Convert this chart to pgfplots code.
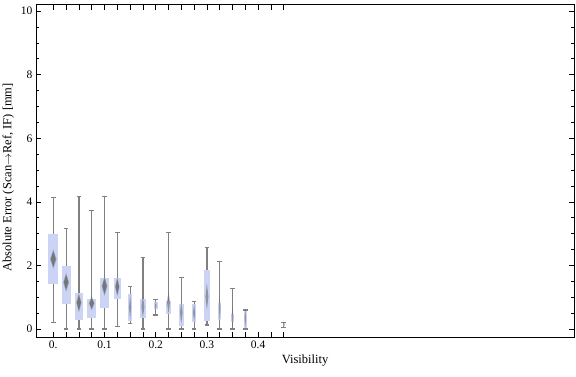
\documentclass[border=0pt]{standalone}
\usepackage{fontspec}
\setmainfont{Liberation Serif}
\usepackage{pgfplots}
\pgfplotsset{compat=1.18}
\usepgfplotslibrary{statistics}
\definecolor{boxblue}{RGB}{204,212,245}
\definecolor{wgray}{RGB}{128,128,128}
\definecolor{dgray}{RGB}{105,105,105}
\begin{document}
\begin{tikzpicture}
\begin{axis}[
  scale only axis, width=538pt, height=332.3pt,
  xmin=-0.0338, xmax=1.017, ymin=-0.25, ymax=10.2,
  xtick={0,0.025,0.05,0.075,0.1,0.125,0.15,0.175,0.2,0.225,0.25,0.275,0.3,0.325,0.35,0.375,0.4,0.425,0.45},
  xticklabels={0.,,,,0.1,,,,0.2,,,,0.3,,,,0.4,,},
  ytick={0,2,4,6,8,10}, yticklabels={0,2,4,6,8,10},
  minor y tick num=3,
  major tick length=5pt, minor tick length=3pt,
  tick style={black, line width=0.6pt},
  axis line style={line width=0.8pt},
  tick label style={font=\fontsize{11.5}{13}\selectfont},
  label style={font=\fontsize{12.5}{14}\selectfont},
  ylabel style={at={(ticklabel cs:0.48)}},
  xlabel={Visibility},
  ylabel={Absolute Error (Scan$\rightarrow$Ref, IF) [mm]},
  boxplot/draw direction=y,
  boxplot/every box/.style={fill=boxblue, draw=none},
  boxplot/every whisker/.style={wgray, line width=1.2pt},
  boxplot/every median/.style={draw=none},
  boxplot/whisker extend=0.009,
]
\coordinate (ll) at (rel axis cs:0,0);
\coordinate (ur) at (rel axis cs:1,1);
% boxes: draw position, lower whisker, lower quartile, upper quartile, upper whisker
\addplot[wgray, line width=1.2pt, boxplot prepared={draw position=0,     lower whisker=0.21, lower quartile=1.42, median=2.2,  upper quartile=2.99, upper whisker=4.14, box extend=0.0195}] coordinates {};
\addplot[wgray, line width=1.2pt, boxplot prepared={draw position=0.025, lower whisker=0.0,  lower quartile=0.80, median=1.47, upper quartile=1.98, upper whisker=3.17, box extend=0.0176}] coordinates {};
\addplot[wgray, line width=1.2pt, boxplot prepared={draw position=0.05,  lower whisker=0.0,  lower quartile=0.29, median=0.83, upper quartile=1.12, upper whisker=4.18, box extend=0.0162}] coordinates {};
\addplot[wgray, line width=1.2pt, boxplot prepared={draw position=0.075, lower whisker=0.0,  lower quartile=0.36, median=0.81, upper quartile=0.94, upper whisker=3.73, box extend=0.0176}] coordinates {};
\addplot[wgray, line width=1.2pt, boxplot prepared={draw position=0.1,   lower whisker=0.0,  lower quartile=0.67, median=1.35, upper quartile=1.60, upper whisker=4.18, box extend=0.0176}] coordinates {};
\addplot[wgray, line width=1.2pt, boxplot prepared={draw position=0.125, lower whisker=0.09, lower quartile=0.95, median=1.33, upper quartile=1.60, upper whisker=3.04, box extend=0.0137}] coordinates {};
\addplot[wgray, line width=1.2pt, boxplot prepared={draw position=0.15,  lower whisker=0.18, lower quartile=0.25, median=0.69, upper quartile=1.10, upper whisker=1.33, box extend=0.0078}] coordinates {};
\addplot[wgray, line width=1.2pt, boxplot prepared={draw position=0.175, lower whisker=0.0,  lower quartile=0.36, median=0.70, upper quartile=0.94, upper whisker=2.25, box extend=0.0117}] coordinates {};
\addplot[wgray, line width=1.2pt, boxplot prepared={draw position=0.2,   lower whisker=0.44, lower quartile=0.63, median=0.73, upper quartile=0.84, upper whisker=0.93, box extend=0.0072}] coordinates {};
\addplot[wgray, line width=1.2pt, boxplot prepared={draw position=0.225, lower whisker=0.0,  lower quartile=0.47, median=0.84, upper quartile=0.89, upper whisker=3.04, box extend=0.0117}] coordinates {};
\addplot[wgray, line width=1.2pt, boxplot prepared={draw position=0.25,  lower whisker=0.0,  lower quartile=0.10, median=0.52, upper quartile=0.79, upper whisker=1.63, box extend=0.0098}] coordinates {};
\addplot[wgray, line width=1.2pt, boxplot prepared={draw position=0.275, lower whisker=0.0,  lower quartile=0.23, median=0.51, upper quartile=0.78, upper whisker=0.86, box extend=0.0078}] coordinates {};
\addplot[wgray, line width=1.2pt, boxplot prepared={draw position=0.3,   lower whisker=0.13, lower quartile=0.26, median=1.02, upper quartile=1.86, upper whisker=2.57, box extend=0.0117}] coordinates {};
\addplot[wgray, line width=1.2pt, boxplot prepared={draw position=0.325, lower whisker=0.0,  lower quartile=0.28, median=0.65, upper quartile=0.83, upper whisker=2.12, box extend=0.0065}] coordinates {};
\addplot[wgray, line width=1.2pt, boxplot prepared={draw position=0.35,  lower whisker=0.0,  lower quartile=0.23, median=0.39, upper quartile=0.47, upper whisker=1.28, box extend=0.0052}] coordinates {};
\addplot[wgray, line width=1.2pt, boxplot prepared={draw position=0.375, lower whisker=0.0,  lower quartile=0.02, median=0.34, upper quartile=0.58, upper whisker=0.60, box extend=0.0052}] coordinates {};
\addplot[wgray, line width=1.2pt, boxplot prepared={draw position=0.45,  lower whisker=0.05, lower quartile=0.09, median=0.15, upper quartile=0.18, upper whisker=0.20, box extend=0.0045}] coordinates {};
% mean diamonds (soft outer + darker inner)
\addplot[fill=dgray, draw=none, fill opacity=0.35] coordinates {(-0.0065,2.2) (0,2.52) (0.0065,2.2) (0,1.88)} --cycle;
\addplot[fill=dgray, draw=none, fill opacity=0.8] coordinates {(-0.0049,2.2) (0,2.45) (0.0049,2.2) (0,1.95)} --cycle;
\addplot[fill=dgray, draw=none, fill opacity=0.35] coordinates {(0.0192,1.47) (0.025,1.78) (0.0308,1.47) (0.025,1.16)} --cycle;
\addplot[fill=dgray, draw=none, fill opacity=0.8] coordinates {(0.0206,1.47) (0.025,1.71) (0.0294,1.47) (0.025,1.23)} --cycle;
\addplot[fill=dgray, draw=none, fill opacity=0.35] coordinates {(0.0447,0.83) (0.05,1.15) (0.0553,0.83) (0.05,0.51)} --cycle;
\addplot[fill=dgray, draw=none, fill opacity=0.8] coordinates {(0.046,0.83) (0.05,1.08) (0.054,0.83) (0.05,0.58)} --cycle;
\addplot[fill=dgray, draw=none, fill opacity=0.35] coordinates {(0.0692,0.81) (0.075,1.04) (0.0808,0.81) (0.075,0.58)} --cycle;
\addplot[fill=dgray, draw=none, fill opacity=0.8] coordinates {(0.0706,0.81) (0.075,0.99) (0.0794,0.81) (0.075,0.63)} --cycle;
\addplot[fill=dgray, draw=none, fill opacity=0.35] coordinates {(0.0942,1.35) (0.1,1.67) (0.1058,1.35) (0.1,1.03)} --cycle;
\addplot[fill=dgray, draw=none, fill opacity=0.8] coordinates {(0.0956,1.35) (0.1,1.6) (0.1044,1.35) (0.1,1.1)} --cycle;
\addplot[fill=dgray, draw=none, fill opacity=0.35] coordinates {(0.1205,1.33) (0.125,1.65) (0.1295,1.33) (0.125,1.01)} --cycle;
\addplot[fill=dgray, draw=none, fill opacity=0.8] coordinates {(0.1216,1.33) (0.125,1.58) (0.1284,1.33) (0.125,1.08)} --cycle;
\addplot[fill=dgray, draw=none, fill opacity=0.6] coordinates {(0.148,0.69) (0.15,1.11) (0.152,0.69) (0.15,0.27)} --cycle;
\addplot[fill=dgray, draw=none, fill opacity=0.6] coordinates {(0.1721,0.70) (0.175,1.05) (0.1779,0.70) (0.175,0.35)} --cycle;
\addplot[fill=dgray, draw=none, fill opacity=0.6] coordinates {(0.1982,0.73) (0.2,0.85) (0.2018,0.73) (0.2,0.61)} --cycle;
\addplot[fill=dgray, draw=none, fill opacity=0.6] coordinates {(0.2221,0.84) (0.225,1.19) (0.2279,0.84) (0.225,0.49)} --cycle;
\addplot[fill=dgray, draw=none, fill opacity=0.6] coordinates {(0.2475,0.52) (0.25,0.87) (0.2525,0.52) (0.25,0.17)} --cycle;
\addplot[fill=dgray, draw=none, fill opacity=0.6] coordinates {(0.273,0.51) (0.275,0.81) (0.277,0.51) (0.275,0.21)} --cycle;
\addplot[fill=dgray, draw=none, fill opacity=0.6] coordinates {(0.2971,1.02) (0.3,1.44) (0.3029,1.02) (0.3,0.6)} --cycle;
\addplot[fill=dgray, draw=none, fill opacity=0.6] coordinates {(0.3234,0.65) (0.325,1.05) (0.3266,0.65) (0.325,0.25)} --cycle;
\addplot[fill=dgray, draw=none, fill opacity=0.6] coordinates {(0.3485,0.39) (0.35,0.74) (0.3515,0.39) (0.35,0.04)} --cycle;
\addplot[fill=dgray, draw=none, fill opacity=0.6] coordinates {(0.3735,0.34) (0.375,0.64) (0.3765,0.34) (0.375,0.04)} --cycle;
\addplot[fill=dgray, draw=none, fill opacity=0.6] coordinates {(0.4485,0.15) (0.45,0.23) (0.4515,0.15) (0.45,0.07)} --cycle;
\end{axis}
\pgfresetboundingbox
\path[use as bounding box] ([xshift=-36pt,yshift=-40pt]ll) rectangle ([xshift=2pt,yshift=4.7pt]ur);
\end{tikzpicture}
\end{document}
